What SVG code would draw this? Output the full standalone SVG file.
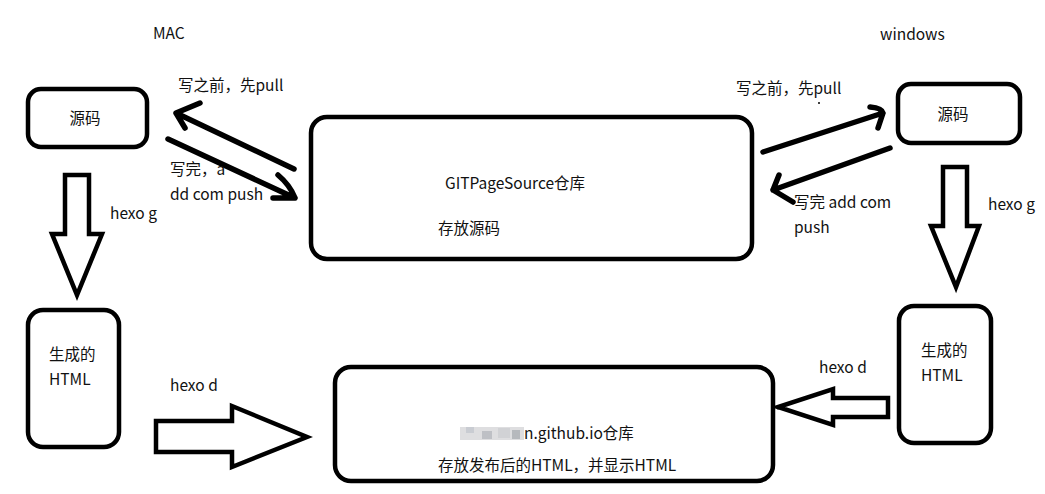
<svg xmlns="http://www.w3.org/2000/svg" width="1045" height="494" viewBox="0 0 1045 494">
<style>
.box{fill:#fff;stroke:#000;stroke-width:4.5}
.blk{fill:#fff;stroke:#000;stroke-width:4.5;stroke-linejoin:miter}
.ln{fill:none;stroke:#000;stroke-width:5.5;stroke-linecap:round;stroke-linejoin:round}
.t{font-family:"Noto Sans CJK SC","Noto Sans",sans-serif;font-size:15.5px;fill:#111}
</style>
<rect width="1045" height="494" fill="#fff"/>
<text class="t" x="153" y="39">MAC</text>
<text class="t" x="880" y="40">windows</text>
<g id="src-mac">
<rect class="box" x="28" y="89" width="119" height="58" rx="13"/>
<text class="t" x="85" y="124" text-anchor="middle">源码</text>
</g>
<g id="git-source">
<rect class="box" x="311" y="117" width="441" height="142" rx="16"/>
<text class="t" x="445" y="189">GITPageSource仓库</text>
<text class="t" x="438" y="234">存放源码</text>
</g>
<g id="src-win">
<rect class="box" x="898" y="84" width="122" height="59" rx="13"/>
<text class="t" x="953" y="120" text-anchor="middle">源码</text>
</g>
<g id="html-mac">
<rect class="box" x="28" y="310" width="91" height="137" rx="15"/>
<text class="t" x="49" y="360">生成的</text>
<text class="t" x="49" y="385">HTML</text>
</g>
<g id="html-win">
<rect class="box" x="899" y="306" width="92" height="137" rx="15"/>
<text class="t" x="921" y="356">生成的</text>
<text class="t" x="921" y="381">HTML</text>
</g>
<g id="github-io">
<rect class="box" x="335" y="367" width="438" height="114" rx="16"/>
<g opacity="0.75">
<rect x="460" y="427" width="64" height="13" fill="#d4d4d6"/>
<rect x="466" y="427" width="8" height="6" fill="#b8bcc4"/>
<rect x="482" y="431" width="10" height="8" fill="#a9acb2"/>
<rect x="498" y="428" width="12" height="10" fill="#c2c4c8"/>
<rect x="512" y="430" width="8" height="9" fill="#9ea2a8"/>
</g>
<text class="t" x="524" y="439">n.github.io仓库</text>
<text class="t" x="438" y="471">存放发布后的HTML，并显示HTML</text>
</g>
<g id="connectors">
<path class="ln" d="M294,169 L176,113 M200,103 L176,113 L185,128"/>
<path class="ln" d="M168,139 L295,198 M278,175 Q290,185 295,198 L273,198"/>
<path class="ln" d="M763,152 L883,113 M870,107 Q882,108 883,113 L878,128"/>
<path class="ln" d="M890,148 L773,190 M779,175 L773,190 L793,202"/>
<polygon class="blk" points="65,175 89,175 89,234 102,234 77,295 52,234 65,234"/>
<polygon class="blk" points="943,167 967,167 967,226 979,226 956,287 931,226 943,226"/>
<polygon class="blk" points="156,421 232,421 232,406 307,437 232,467 232,452 156,452"/>
<polygon class="blk" points="888,398 833,398 833,389 778,407 833,425 833,417 888,417"/>
<circle cx="819" cy="103" r="1" fill="#000"/>
<circle cx="778" cy="408" r="1.5" fill="#000"/>
</g>
<text class="t" x="178" y="91">写之前，先pull</text>
<text class="t" x="170" y="175">写完，a</text>
<text class="t" x="170" y="200">dd com push</text>
<text class="t" x="110" y="219">hexo g</text>
<text class="t" x="736" y="94">写之前，先pull</text>
<text class="t" x="794" y="208">写完 add com</text>
<text class="t" x="794" y="233">push</text>
<text class="t" x="988" y="210">hexo g</text>
<text class="t" x="170" y="391">hexo d</text>
<text class="t" x="819" y="373">hexo d</text>
</svg>
